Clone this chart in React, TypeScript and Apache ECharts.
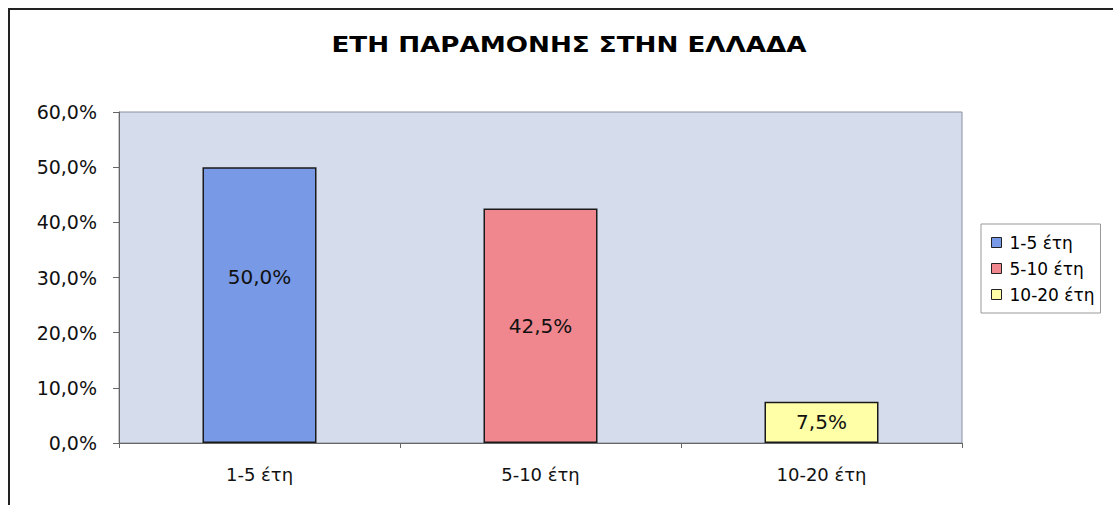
import React, { useEffect, useRef } from "react";
import * as echarts from "echarts";

const categories = ["1-5 έτη", "5-10 έτη", "10-20 έτη"];
const seriesNames = ["1-5 έτη", "5-10 έτη", "10-20 έτη"];
const values = [50.0, 42.5, 7.5];
const colors = ["#7899e6", "#f0878f", "#ffffa8"];
const yTicks = { min: 0, max: 60, interval: 10 };
const title = "ΕΤΗ ΠΑΡΑΜΟΝΗΣ ΣΤΗΝ ΕΛΛΑΔΑ";

const fmt = (v: number) => v.toFixed(1).replace(".", ",") + "%";

export default function App() {
  const ref = useRef<HTMLDivElement>(null);
  useEffect(() => {
    if (!ref.current) return;
    const chart = echarts.init(ref.current, undefined, { renderer: "svg" });
    const font = "'DejaVu Sans', Verdana, sans-serif";
    const labelOffsets = [[0, -28], [0, 0], [0, 0]];
    chart.setOption({
      animation: false,
      backgroundColor: "#ffffff",
      textStyle: { fontFamily: font },
      graphic: [
        {
          type: "rect",
          shape: { x: 9, y: 9, width: 1120, height: 520 },
          style: { fill: "none", stroke: "#222", lineWidth: 2 },
          silent: true,
        },
        {
          type: "text",
          x: 569,
          y: 45,
          scaleX: 1.19,
          style: {
            text: title,
            fontFamily: font,
            fontWeight: "bold",
            fontSize: 22,
            fill: "#000",
            align: "center",
            verticalAlign: "middle",
          },
          silent: true,
        },
      ],
      legend: {
        orient: "vertical",
        left: 981,
        top: 224,
        padding: [9, 6, 9, 10],
        itemWidth: 10,
        itemHeight: 10,
        itemGap: 7,
        icon: "rect",
        borderColor: "#999",
        borderWidth: 1,
        backgroundColor: "#fff",
        data: seriesNames,
        textStyle: { fontFamily: font, fontSize: 17, color: "#000", lineHeight: 19, padding: [0, 0, 0, 3] },
        itemStyle: { borderColor: "#222", borderWidth: 1 },
      },
      grid: {
        left: 119,
        right: 151,
        top: 112,
        bottom: 62,
        show: true,
        backgroundColor: "#d5dcec",
        borderColor: "#8a90a0",
        borderWidth: 1,
      },
      xAxis: {
        type: "category",
        data: categories,
        axisLine: { lineStyle: { color: "#666", width: 1 } },
        axisTick: { show: true, length: 5, alignWithLabel: false, lineStyle: { color: "#666" } },
        axisLabel: { color: "#111", fontSize: 18, margin: 22, fontFamily: font },
      },
      yAxis: {
        type: "value",
        min: yTicks.min,
        max: yTicks.max,
        interval: yTicks.interval,
        splitLine: { show: false },
        axisLine: { show: true, lineStyle: { color: "#666", width: 1 } },
        axisTick: { show: true, length: 6, lineStyle: { color: "#666" } },
        axisLabel: { color: "#111", fontSize: 19, margin: 22, fontFamily: font, formatter: (v: number) => fmt(v) },
      },
      series: seriesNames.map((name, i) => ({
        name,
        type: "bar",
        stack: "all",
        barWidth: 114,
        data: categories.map((_, j) => (j === i ? values[i] : "-")),
        itemStyle: { color: colors[i], borderColor: "#1a1a1a", borderWidth: 1.5 },
        label: {
          show: true,
          position: "inside",
          offset: labelOffsets[i],
          color: "#111",
          fontSize: 20,
          fontFamily: font,
          formatter: (p: any) => fmt(p.value),
        },
      })),
    });
    return () => chart.dispose();
  }, []);
  return (
    <div
      ref={ref}
      style={{ position: "absolute", left: 0, top: 0, width: 1113, height: 505 }}
    />
  );
}
